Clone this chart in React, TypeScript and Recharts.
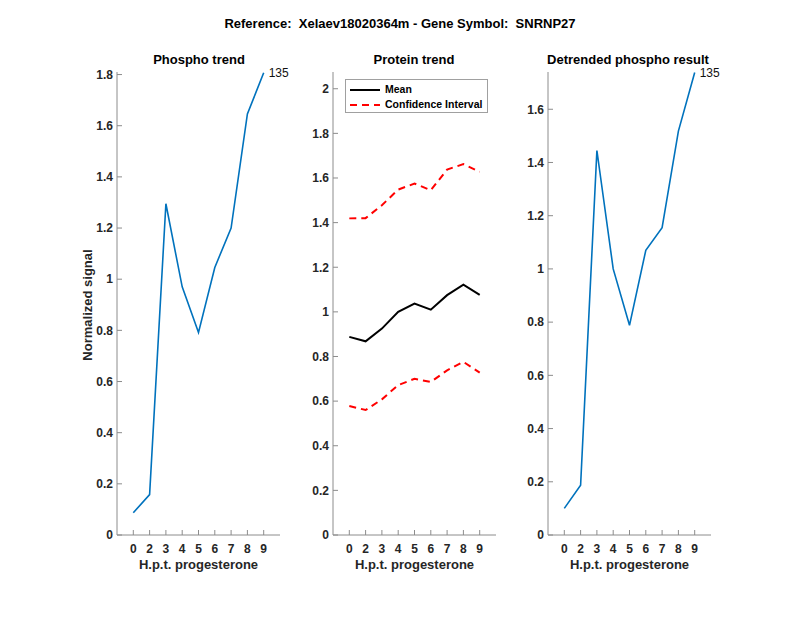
import { LineChart, Line, XAxis, YAxis } from 'recharts'

const hours = ['0', '2', '3', '4', '5', '6', '7', '8', '9']
const phospho = [0.087, 0.158, 1.295, 0.97, 0.792, 1.046, 1.2, 1.646, 1.807]
const detrended = [0.1, 0.187, 1.445, 1.0, 0.788, 1.07, 1.155, 1.518, 1.738]
const proteinMean = [0.888, 0.868, 0.925, 1.0, 1.037, 1.01, 1.075, 1.122, 1.076]
const ciUpper = [1.419, 1.42, 1.478, 1.548, 1.575, 1.545, 1.638, 1.662, 1.628]
const ciLower = [0.578, 0.56, 0.608, 0.672, 0.7, 0.686, 0.738, 0.776, 0.728]
const siteLabel = '135'

const ticks18 = [0, 0.2, 0.4, 0.6, 0.8, 1, 1.2, 1.4, 1.6, 1.8]
const ticks20 = [0, 0.2, 0.4, 0.6, 0.8, 1, 1.2, 1.4, 1.6, 1.8, 2]
const ticks16 = [0, 0.2, 0.4, 0.6, 0.8, 1, 1.2, 1.4, 1.6]

const FONT = '"Liberation Sans", Arial, Helvetica, sans-serif'
const AXIS = '#8c8c8c'
const TEXT = '#262626'
const BLUE = '#0072BD'

const rows = hours.map((h, i) => ({
  idx: i + 1,
  phospho: phospho[i],
  detrended: detrended[i],
  mean: proteinMean[i],
  upper: ciUpper[i],
  lower: ciLower[i],
}))

const Y_W = 50
const PLOT_W = 163
const RIGHT = 40

const SiteLabel = (props: any) => {
  const { x, y, index } = props
  if (index !== rows.length - 1) return null
  return (
    <text x={x + 5} y={y + 4} fontSize={12} fontFamily={FONT} fill="#111">
      {siteLabel}
    </text>
  )
}

interface PanelProps {
  readonly left: number
  readonly top: number
  readonly ticks: number[]
  readonly children: React.ReactNode
}

const Panel = ({ left, top, ticks, children }: PanelProps) => (
  <div style={{ position: 'absolute', left: left - Y_W, top: 0 }}>
    <LineChart
      width={Y_W + PLOT_W + RIGHT}
      height={600}
      data={rows}
      margin={{ top: 72, right: RIGHT, bottom: 0, left: 0 }}
    >
      <XAxis
        type="number"
        dataKey="idx"
        domain={[0, 10]}
        ticks={[1, 2, 3, 4, 5, 6, 7, 8, 9]}
        tickFormatter={(v) => hours[v - 1]}
        allowDataOverflow
        height={65}
        stroke={AXIS}
        tickSize={-5}
        tickMargin={14}
        tick={{ fill: TEXT, fontSize: 12, fontWeight: 'bold', fontFamily: FONT }}
        interval={0}
      />
      <YAxis
        type="number"
        domain={[0, top]}
        ticks={ticks}
        allowDataOverflow
        width={Y_W}
        stroke={AXIS}
        tickSize={-5}
        tickMargin={9}
        tick={{ fill: TEXT, fontSize: 12, fontWeight: 'bold', fontFamily: FONT }}
        interval={0}
      />
      {children}
    </LineChart>
  </div>
)

const centered = (x: number, y: number, size: number, text: string) => (
  <div
    style={{
      position: 'absolute',
      left: x - 200,
      top: y - size * 0.6,
      width: 400,
      textAlign: 'center',
      fontSize: size,
      fontWeight: 'bold',
      color: '#000',
      lineHeight: `${size * 1.2}px`,
      whiteSpace: 'pre',
    }}
  >
    {text}
  </div>
)

const LegendSample = ({ dashed, color }: { dashed?: boolean; color: string }) => (
  <svg width={32} height={6} style={{ marginRight: 4, flex: 'none' }}>
    <line x1={1} y1={3} x2={31} y2={3} stroke={color} strokeWidth={2} strokeDasharray={dashed ? '7 5' : undefined} />
  </svg>
)

export default function App() {
  const lefts = [117, 333, 548]
  return (
    <div
      style={{
        position: 'absolute',
        left: 0,
        top: 0,
        width: 800,
        height: 618,
        background: '#fff',
        fontFamily: FONT,
        overflow: 'hidden',
      }}
    >
      {centered(400, 24, 13, 'Reference:  Xelaev18020364m - Gene Symbol:  SNRNP27')}
      {centered(199, 60, 13, 'Phospho trend')}
      {centered(414, 60, 13, 'Protein trend')}
      {centered(628, 60, 13, 'Detrended phospho result')}

      <Panel left={lefts[0]} top={1.81} ticks={ticks18}>
        <Line
          dataKey="phospho"
          stroke={BLUE}
          strokeWidth={1.6}
          dot={false}
          isAnimationActive={false}
          label={<SiteLabel />}
        />
      </Panel>
      <Panel left={lefts[1]} top={2.075} ticks={ticks20}>
        <Line dataKey="mean" stroke="#000" strokeWidth={2} dot={false} isAnimationActive={false} />
        <Line
          dataKey="upper"
          stroke="#ff0000"
          strokeWidth={2}
          strokeDasharray="7 5"
          dot={false}
          isAnimationActive={false}
        />
        <Line
          dataKey="lower"
          stroke="#ff0000"
          strokeWidth={2}
          strokeDasharray="7 5"
          dot={false}
          isAnimationActive={false}
        />
      </Panel>
      <Panel left={lefts[2]} top={1.74} ticks={ticks16}>
        <Line
          dataKey="detrended"
          stroke={BLUE}
          strokeWidth={1.6}
          dot={false}
          isAnimationActive={false}
          label={<SiteLabel />}
        />
      </Panel>

      {lefts.map((l) => (
        <div
          key={l}
          style={{
            position: 'absolute',
            left: l + PLOT_W / 2 - 100,
            top: 557,
            width: 200,
            textAlign: 'center',
            fontSize: 13,
            fontWeight: 'bold',
            color: TEXT,
            lineHeight: '16px',
          }}
        >
          H.p.t. progesterone
        </div>
      ))}
      <div
        style={{
          position: 'absolute',
          left: 88 - 100,
          top: 305 - 8,
          width: 200,
          textAlign: 'center',
          fontSize: 13,
          fontWeight: 'bold',
          color: TEXT,
          lineHeight: '16px',
          transform: 'rotate(-90deg)',
        }}
      >
        Normalized signal
      </div>

      <div
        style={{
          position: 'absolute',
          left: 345,
          top: 79,
          width: 143,
          height: 34,
          border: '1px solid #a0a0a0',
          background: '#fff',
          fontSize: 10.5,
          fontWeight: 'bold',
          color: '#000',
          boxSizing: 'border-box',
          padding: '2px 0 0 3px',
          lineHeight: '15px',
          whiteSpace: 'nowrap',
        }}
      >
        <div style={{ display: 'flex', alignItems: 'center', height: 15 }}>
          <LegendSample color="#000" />
          Mean
        </div>
        <div style={{ display: 'flex', alignItems: 'center', height: 15 }}>
          <LegendSample color="#ff0000" dashed />
          Confidence Interval
        </div>
      </div>
    </div>
  )
}
